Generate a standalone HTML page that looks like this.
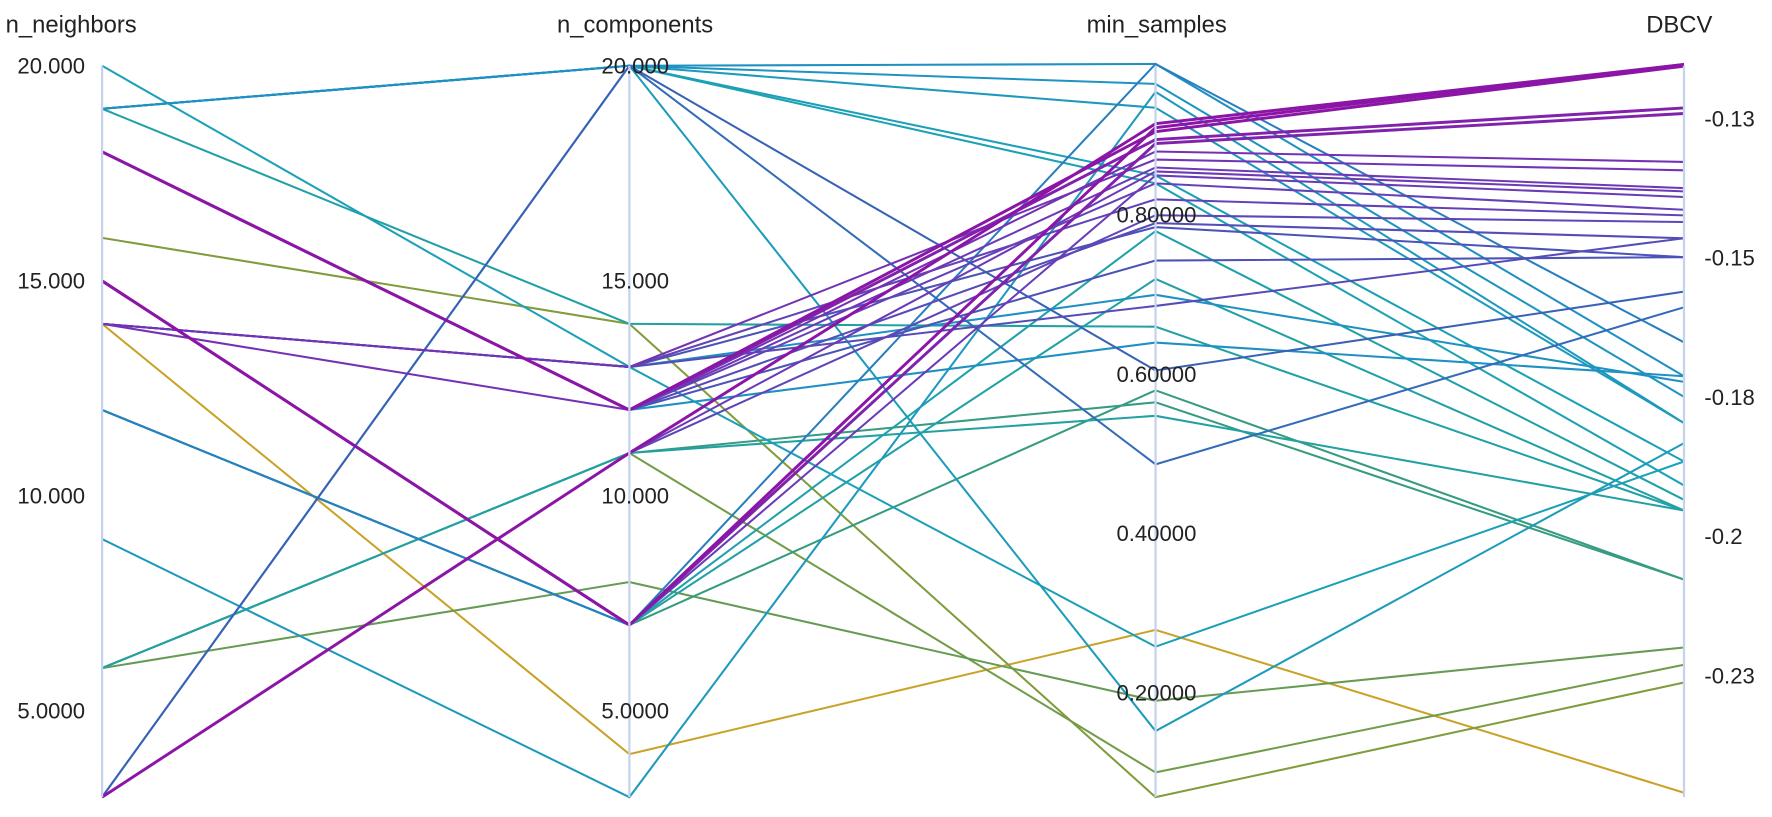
<!DOCTYPE html>
<html><head><meta charset="utf-8"><style>
html,body{margin:0;padding:0;background:#fff;}
svg{display:block;}
text{font-family:"Liberation Sans",sans-serif;fill:#222;}
</style></head><body>
<svg id="chart" width="1772" height="817" viewBox="0 0 1562.6 720.5" preserveAspectRatio="none" xmlns="http://www.w3.org/2000/svg">
<g id="lines"></g>
<g id="axes"></g>
</svg>
<script>
const dimensions = ["n_neighbors", "n_components", "min_samples", "DBCV"];
const nNeighbors  = [3,15,18,18,15,14,14,18,3,15,18,14,3,18,14,18,14,3,3,19,12,19,9,19,19,19,19,12,12,20,19,12,6,6,6,16,6,14,14,18];
const nComponents = [11,7,12,12,7,12,13,12,11,7,12,13,11,12,13,12,13,20,20,20,7,20,3,20,20,20,20,7,7,13,14,7,11,11,8,14,11,4,13,12];
const minSamples  = [0.915,0.91,0.905,0.895,0.89,0.88,0.87,0.86,0.855,0.85,0.84,0.82,0.80,0.79,0.785,0.743,0.686,0.487,0.605,0.99,0.99,0.965,0.955,0.935,0.85,0.84,0.152,0.78,0.72,0.258,0.66,0.58,0.565,0.548,0.19,0.069,0.1,0.279,0.70,0.64];
const dbcv        = [-0.1152,-0.1152,-0.1155,-0.123,-0.124,-0.1327,-0.1342,-0.1374,-0.138,-0.139,-0.1413,-0.1423,-0.1435,-0.1464,-0.1498,-0.1498,-0.1464,-0.1588,-0.156,-0.1712,-0.1651,-0.1749,-0.1796,-0.1796,-0.1865,-0.1908,-0.1832,-0.1934,-0.1953,-0.1865,-0.1953,-0.2077,-0.2077,-0.1953,-0.2199,-0.2262,-0.223,-0.246,-0.1722,-0.1712];
const nnTicks = [20,15,10,5];
const nnTickLabels = ["20.000","15.000","10.000","5.0000"];
const ncTicks = [20,15,10,5];
const ncTickLabels = ["20.000","15.000","10.000","5.0000"];
const msTicks = [0.8,0.6,0.4,0.2];
const msTickLabels = ["0.80000","0.60000","0.40000","0.20000"];
const dbTicks = [-0.125,-0.15,-0.175,-0.2,-0.225];
const dbTickLabels = ["-0.13","-0.15","-0.18","-0.2","-0.23"];

const NS="http://www.w3.org/2000/svg";
const axisX=[90,555,1019,1485];
const TOP=58,BOT=703;
function yInt(v){return TOP+(20-v)*(BOT-TOP)/17;}
function yMs(v){return 189.8-(v-0.8)*702;}
function yDb(v){return 105+(-0.125-v)*4910;}
const scales=[yInt,yInt,yMs,yDb];
const stops=[[-0.246,[201,162,39]],[-0.226,[127,156,60]],[-0.21,[58,154,122]],[-0.19,[26,163,181]],[-0.17,[31,143,196]],[-0.155,[58,95,181]],[-0.14,[106,61,184]],[-0.115,[140,20,166]]];
function color(v){
  if(v<=stops[0][0])return "rgb("+stops[0][1]+")";
  for(let i=1;i<stops.length;i++){
    if(v<=stops[i][0]){
      const t=(v-stops[i-1][0])/(stops[i][0]-stops[i-1][0]);
      const a=stops[i-1][1],b=stops[i][1];
      return "rgb("+a.map((c,k)=>Math.round(c+(b[k]-c)*t)).join(",")+")";
    }
  }
  return "rgb("+stops[stops.length-1][1]+")";
}
const lg=document.getElementById("lines");
const order=dbcv.map((d,i)=>i).sort((a,b)=>dbcv[a]-dbcv[b]);
order.forEach(i=>{
  const vals=[nNeighbors[i],nComponents[i],minSamples[i],dbcv[i]];
  const pts=vals.map((v,k)=>axisX[k]+","+scales[k](v).toFixed(1)).join(" ");
  const pl=document.createElementNS(NS,"polyline");
  pl.setAttribute("points",pts);
  pl.setAttribute("fill","none");
  pl.setAttribute("stroke",color(dbcv[i]));
  pl.setAttribute("stroke-width",dbcv[i]>-0.126?"2.6":"1.8");
  
  
  lg.appendChild(pl);
});
const ag=document.getElementById("axes");
function txt(x,y,s,anchor,size,name){
  const t=document.createElementNS(NS,"text");
  t.setAttribute("x",x);t.setAttribute("y",y);
  t.setAttribute("text-anchor",anchor);
  t.setAttribute("dominant-baseline","central");
  t.setAttribute("font-size",size);
  t.textContent=s;
  
  
  ag.appendChild(t);
}
axisX.forEach((x,k)=>{
  const l=document.createElementNS(NS,"line");
  l.setAttribute("x1",x);l.setAttribute("x2",x);
  l.setAttribute("y1",TOP);l.setAttribute("y2",BOT);
  l.setAttribute("stroke","#c6d3ef");l.setAttribute("stroke-width","2");
  
  
  ag.insertBefore(l,ag.firstChild);
});
txt(5,22,"n_neighbors","start",21,"axis-title-n-neighbors");
txt(560,22,"n_components","middle",21,"axis-title-n-components");
txt(1020,22,"min_samples","middle",21,"axis-title-min-samples");
txt(1510,22,"DBCV","end",21,"axis-title-dbcv");
nnTicks.forEach((v,i)=>txt(75,yInt(v),nnTickLabels[i],"end",19.5,"n-neighbors-tick-label"));
ncTicks.forEach((v,i)=>txt(590,yInt(v),ncTickLabels[i],"end",19.5,"n-components-tick-label"));
msTicks.forEach((v,i)=>txt(1055,yMs(v),msTickLabels[i],"end",19.5,"min-samples-tick-label"));
dbTicks.forEach((v,i)=>txt(1503,yDb(v),dbTickLabels[i],"start",19.5,"dbcv-tick-label"));
</script>
</body></html>
